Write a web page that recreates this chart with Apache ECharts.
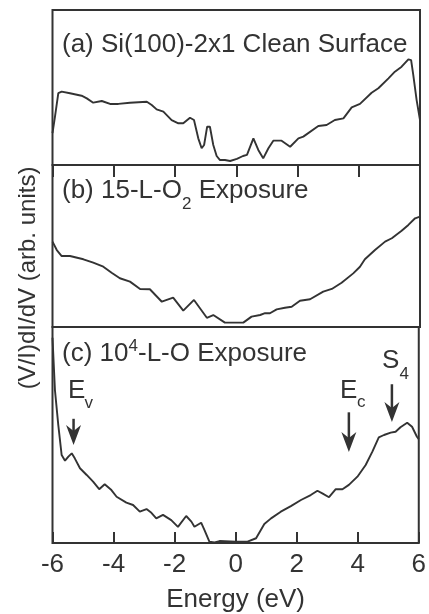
<!DOCTYPE html>
<html>
<head>
<meta charset="utf-8">
<script src="https://cdn.jsdelivr.net/npm/echarts@6/dist/echarts.min.js"></script>
<style>
  html, body { margin: 0; padding: 0; background: #fff; }
  #echarts { width: 429px; height: 614px; }
</style>
</head>
<body>
<div id="echarts"></div>
<script>
// (V/I)dI/dV 三个面板, 读图得到的数据 (arb. units, 0-100 per panel)
var energyA = [-6.00,-5.92,-5.81,-5.70,-5.43,-5.05,-4.88,-4.67,-4.39,-4.12,-3.85,-3.47,-2.92,-2.76,-2.60,-2.38,-2.11,-1.89,-1.73,-1.51,-1.38,-1.24,-1.13,-1.05,-0.95,-0.86,-0.75,-0.64,-0.53,-0.37,-0.20,0.02,0.22,0.35,0.56,0.72,0.88,1.05,1.21,1.48,1.76,2.03,2.19,2.68,2.95,3.22,3.50,3.77,4.04,4.42,4.64,4.97,5.18,5.40,5.62,5.71,5.78,5.89,6.00];
var valueA = [20.6,31.0,46.3,47.3,46.3,44.7,43.0,40.2,41.3,39.4,39.4,40.2,40.8,38.7,35.9,34.4,29.0,26.9,26.9,30.5,29.0,17.2,10.8,12.9,24.7,24.7,12.9,5.8,3.2,3.2,2.6,3.9,5.8,6.5,17.2,9.7,4.3,10.8,15.7,15.7,11.8,17.2,18.3,25.2,25.8,29.0,30.1,37.2,39.4,46.6,49.5,55.9,60.2,63.4,68.2,67.7,58.1,41.9,29.0];

var energyB = [-6.00,-5.86,-5.70,-5.43,-4.99,-4.67,-4.34,-4.07,-3.80,-3.47,-3.14,-2.82,-2.43,-2.06,-1.73,-1.38,-0.96,-0.75,-0.37,0.12,0.23,0.50,0.78,0.94,1.10,1.32,1.59,1.81,2.08,2.41,2.84,3.12,3.44,3.82,4.04,4.20,4.53,4.86,5.08,5.40,5.62,5.84,6.00];
var valueB = [52.7,47.5,43.8,43.8,41.8,39.7,37.2,33.5,30.1,28.0,23.5,23.3,15.6,18.1,10.1,16.7,5.7,7.4,2.7,2.7,2.7,6.4,7.4,8.5,8.5,10.9,11.9,12.5,16.2,17.1,21.8,23.5,27.3,33.1,37.2,41.8,47.5,52.7,54.8,59.4,63.0,67.1,68.1];

var energyC = [-6.00,-5.92,-5.81,-5.70,-5.59,-5.48,-5.37,-5.27,-5.10,-4.88,-4.67,-4.47,-4.29,-4.07,-3.90,-3.58,-3.36,-3.14,-2.92,-2.76,-2.60,-2.38,-2.11,-1.89,-1.62,-1.45,-1.35,-1.13,-1.02,-0.86,-0.69,-0.53,0.00,0.39,0.67,0.94,1.16,1.48,1.81,2.14,2.46,2.68,2.84,3.06,3.28,3.50,3.71,3.99,4.26,4.48,4.69,4.86,5.08,5.24,5.40,5.62,5.78,5.94,6.00];
var valueC = [95.0,70.8,54.6,40.7,38.1,40.0,41.5,39.2,34.6,31.5,28.4,24.9,27.2,24.5,21.4,18.7,17.6,14.5,15.7,14.0,11.4,13.0,10.6,7.5,12.5,9.9,7.5,9.4,6.0,0.6,0.3,0.9,0.6,0.6,2.2,8.8,11.4,14.5,17.1,19.9,22.2,24.2,23.0,21.2,24.9,24.9,26.9,30.7,36.1,42.3,48.9,50.0,51.1,51.5,53.6,55.7,53.8,49.2,48.1];

// 箭头 (E_v, E_c, S_4) in panel (c) data units
var arrowEnergy = [-5.31, 3.71, 5.12];
var arrowStart = [57.5, 60.5, 73.5];
var arrowTip = [45.4, 42.1, 56.0];

var FONT = '"Liberation Sans", Arial, Helvetica, sans-serif';
var INK = '#333';

function zip(xs, ys) {
  var out = [];
  for (var i = 0; i < xs.length; i++) out.push([xs[i], ys[i]]);
  return out;
}

var myChart = echarts.init(document.getElementById('echarts'));

var panelGrid = { left: 52.5, right: 9, show: true, borderColor: INK, borderWidth: 2 };
var tickStyle = { color: INK, width: 2 };

var option = {
  animation: false,
  backgroundColor: '#fff',
  grid: [
    Object.assign({ top: 10, height: 155 }, panelGrid),
    Object.assign({ top: 165, height: 162 }, panelGrid),
    Object.assign({ top: 327, height: 216 }, panelGrid)
  ],
  xAxis: [
    {
      gridIndex: 0, type: 'value', min: -6, max: 6, interval: 2, position: 'top',
      axisLine: { show: false },
      axisTick: { show: true, inside: true, length: 12, lineStyle: tickStyle },
      axisLabel: { show: false },
      splitLine: { show: false }
    },
    { gridIndex: 1, type: 'value', min: -6, max: 6, show: false },
    {
      gridIndex: 2, type: 'value', min: -6, max: 6, interval: 2, position: 'bottom',
      axisLine: { show: false },
      axisTick: { show: true, inside: true, length: 11, lineStyle: tickStyle },
      axisLabel: { fontSize: 26, color: INK, fontFamily: FONT, margin: 9 },
      splitLine: { show: false },
      name: 'Energy (eV)',
      nameLocation: 'middle',
      nameGap: 44,
      nameTextStyle: { fontSize: 26, color: INK, fontFamily: FONT }
    }
  ],
  yAxis: [
    { gridIndex: 0, type: 'value', min: 0, max: 100, show: false },
    { gridIndex: 1, type: 'value', min: 0, max: 100, show: false },
    { gridIndex: 2, type: 'value', min: 0, max: 100, show: false }
  ],
  series: [
    { name: '(a)', type: 'line', xAxisIndex: 0, yAxisIndex: 0, data: zip(energyA, valueA) },
    { name: '(b)', type: 'line', xAxisIndex: 1, yAxisIndex: 1, data: zip(energyB, valueB) },
    { name: '(c)', type: 'line', xAxisIndex: 2, yAxisIndex: 2, data: zip(energyC, valueC) }
  ].map(function (s) {
    s.symbol = 'none';
    s.lineStyle = { color: INK, width: 1.9 };
    return s;
  })
};

myChart.setOption(option);

// 文字标注: main text 26px, 下标/上标 17px; y is the baseline
function txt(x, baseline, text, size) {
  size = size || 26;
  return {
    type: 'text', x: x, y: baseline - 0.8465 * size,
    style: { text: text, fontSize: size, fontFamily: FONT, fill: INK, align: 'left', verticalAlign: 'top' }
  };
}

var graphic = [
  txt(62, 54, '(a) Si(100)-2x1 Clean Surface'),
  txt(62, 200, '(b) 15-L-O'), txt(182, 210, '2', 17), txt(191.5, 200, ' Exposure'),
  txt(62, 363, '(c) 10'), txt(128.5, 352, '4', 17), txt(138, 363, '-L-O Exposure'),
  txt(68, 400, 'E'), txt(84.5, 409, 'v', 17),
  txt(340, 400, 'E'), txt(357, 408, 'c', 17),
  txt(382, 370, 'S'), txt(399.5, 380, '4', 17),
  {
    type: 'text', x: 28, y: 278, rotation: Math.PI / 2,
    style: { text: '(V/I)dI/dV (arb. units)', fontSize: 24, fontFamily: FONT, fill: INK, align: 'center', verticalAlign: 'middle' }
  }
];

// 箭头
for (var i = 0; i < arrowEnergy.length; i++) {
  var p0 = myChart.convertToPixel({ gridIndex: 2 }, [arrowEnergy[i], arrowStart[i]]);
  var p1 = myChart.convertToPixel({ gridIndex: 2 }, [arrowEnergy[i], arrowTip[i]]);
  graphic.push({
    type: 'line',
    shape: { x1: p0[0], y1: p0[1], x2: p1[0], y2: p1[1] - 12 },
    style: { stroke: INK, lineWidth: 2.5 }
  });
  graphic.push({
    type: 'polygon',
    shape: { points: [[p1[0] - 7.5, p1[1] - 20], [p1[0], p1[1] - 14], [p1[0] + 7.5, p1[1] - 20], [p1[0], p1[1]]] },
    style: { fill: INK }
  });
}

myChart.setOption({ graphic: graphic });
</script>
</body>
</html>
